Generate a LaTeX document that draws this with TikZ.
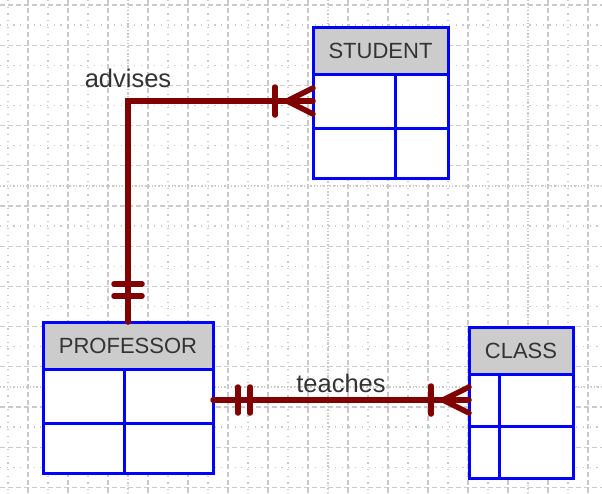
\documentclass[tikz,border=0pt]{standalone}
\usepackage{fontspec}
\setmainfont{Liberation Sans}
\usetikzlibrary{positioning}

\definecolor{relred}{HTML}{800000}
\definecolor{headgray}{HTML}{CCCCCC}
\definecolor{gridgray}{HTML}{CACACA}
\definecolor{textgray}{HTML}{333333}

\begin{document}
\begin{tikzpicture}[x=1pt, y=-1pt,
  gridmajor/.style={draw=gridgray, line width=1.3pt, dash pattern=on 5pt off 3pt},
  gridmid/.style={draw=gridgray, line width=1.3pt, dash pattern=on 1.3pt off 2pt},
  griddots/.style={draw=gridgray, line width=1.2pt, dash pattern=on 1.2pt off 5.5pt},
  head/.style={draw=blue, fill=headgray, line width=3pt, outer sep=0pt, minimum height=47pt,
    text=textgray, font=\fontsize{22}{26}\selectfont},
  entrow/.style={draw=blue, fill=white, line width=3pt, outer sep=0pt, minimum height=54pt},
  entline/.style={draw=blue, line width=3pt},
  relation/.style={draw=relred, line width=5.5pt, line cap=round},
  lbl/.style={text=textgray, font=\fontsize{25.5}{30}\selectfont, inner sep=2pt}]
\useasboundingbox (0,0) rectangle (602,493);
\fill[white] (0,0) rectangle (602,493);
% background grid
\foreach \x in {8,48,...,608} \draw[griddots] (\x,0) -- (\x,493);
\foreach \k in {0,...,12} \draw[griddots] (0,{25+40.2*\k}) -- (602,{25+40.2*\k});
\foreach \x in {128,328,528} \draw[gridmid] (\x,0) -- (\x,493);
\foreach \y in {186,387} \draw[gridmid] (0,\y) -- (602,\y);
\foreach \x in {28,68,...,588} \draw[gridmajor] (\x,0) -- (\x,493);
\foreach \k in {0,...,12} \draw[gridmajor] (0,{5+40.2*\k}) -- (602,{5+40.2*\k});

% entities
\node[head, minimum width=135pt] (student) at (380.5,50.5) {STUDENT};
\node[entrow, minimum width=135pt, below=0pt of student] (student r1) {};
\node[entrow, minimum width=135pt, minimum height=50pt, below=0pt of student r1] (student r2) {};
\draw[entline] (student r1.north west) ++(82,0) -- ++(0,104);

\node[head, minimum width=170pt] (professor) at (128,345.5) {PROFESSOR};
\node[entrow, minimum width=170pt, below=0pt of professor] (professor r1) {};
\node[entrow, minimum width=170pt, minimum height=50pt, below=0pt of professor r1] (professor r2) {};
\draw[entline] (professor r1.north west) ++(81,0) -- ++(0,104);

\node[head, minimum width=104pt] (class) at (521,350.5) {CLASS};
\node[entrow, minimum width=104pt, minimum height=52pt, below=0pt of class] (class r1) {};
\node[entrow, minimum width=104pt, minimum height=52pt, below=0pt of class r1] (class r2) {};
\draw[entline] (class r1.north west) ++(30,0) -- ++(0,104);

% advises: one professor, many students
\draw[relation] (professor.north) |- node[lbl, pos=0.5, above=9pt] (advises) {advises} (student r1.west);
\draw[relation] (professor.north) ++(-14,-26) -- ++(28,0) ++(-28,-12) -- ++(28,0);
\draw[relation] (student r1.west) ++(-38,-14) -- ++(0,28);
\draw[relation] (student r1.west) ++(0,-13) -- ++(-26,13) -- ++(26,13);

% teaches: one professor, many classes
\coordinate (teach start) at (class r1.west -| professor.east);
\draw[relation] (teach start) -- node[lbl, above=3pt] (teaches) {teaches} (class r1.west);
\draw[relation] (teach start) ++(25,-13) -- ++(0,26) ++(12,-26) -- ++(0,26);
\draw[relation] (class r1.west) ++(-38,-14) -- ++(0,28);
\draw[relation] (class r1.west) ++(0,-13) -- ++(-26,13) -- ++(26,13);
\end{tikzpicture}
\end{document}
